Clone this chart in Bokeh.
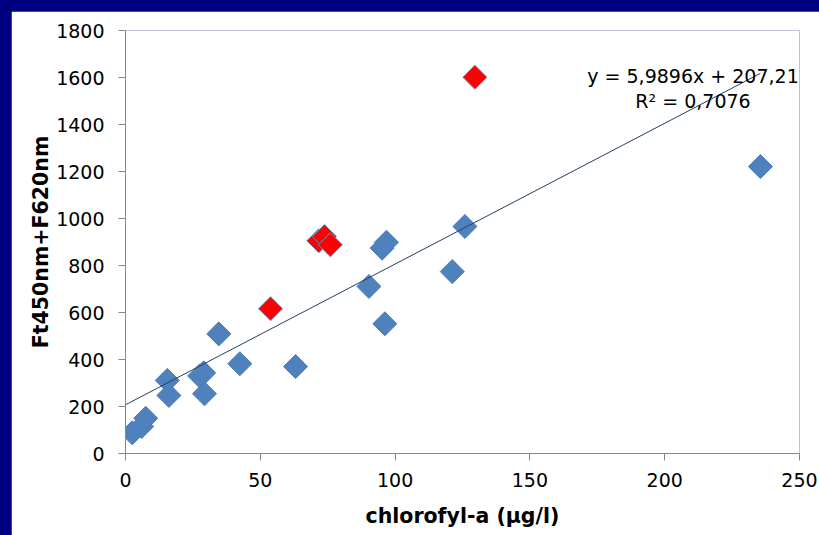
import numpy as np
from bokeh.plotting import figure
from bokeh.models import FixedTicker, Label, Range1d
from bokeh.embed import file_html
from bokeh.resources import INLINE

# ---- data ----
blue_x = [2.5, 6.0, 7.5, 15.5, 16.1, 27.5, 29.0, 29.3, 34.6, 42.4, 63.1, 90.3, 95.2, 96.8, 96.2, 121.2, 125.9, 235.5]
blue_y = [88, 115, 150, 311, 247, 330, 343, 254, 509, 382, 370, 711, 874, 899, 552, 774, 966, 1221]
red_x = [53.8, 71.7, 73.8, 76.0, 129.6]
red_y = [616, 905, 923, 888, 1601]
slope = 5.9896
intercept = 207.21
r2_text = "R² = 0,7076"
eq_text = "y = 5,9896x + 207,21"
x_ticks = [0, 50, 100, 150, 200, 250]
y_ticks = [0, 200, 400, 600, 800, 1000, 1200, 1400, 1600, 1800]
x_title = "chlorofyl-a (µg/l)"
y_title = "Ft450nm+F620nm"

FONT = "DejaVu Sans"

p = figure(width=808, height=524, output_backend="svg", toolbar_location=None,
           x_range=Range1d(0, 250), y_range=Range1d(0, 1800),
           min_border_left=114, min_border_right=20, min_border_top=19, min_border_bottom=82,
           margin=(11, 0, 0, 11))
p.background_fill_color = "white"
p.border_fill_color = "white"
p.outline_line_color = None
p.grid.visible = False

for ax in (p.xaxis[0], p.yaxis[0]):
    ax.axis_line_color = "#868686"
    ax.major_tick_line_color = "#868686"
    ax.minor_tick_line_color = None
    ax.major_tick_in = 0
    ax.major_tick_out = 7
    ax.major_label_text_font = FONT
    ax.major_label_text_font_size = "19px"
    ax.major_label_text_color = "black"
    ax.axis_label_text_font = FONT
    ax.axis_label_text_font_size = "20.5px"
    ax.axis_label_text_font_style = "bold"
    ax.axis_label_text_color = "black"

p.xaxis.ticker = FixedTicker(ticks=x_ticks)
p.yaxis.ticker = FixedTicker(ticks=y_ticks)
p.xaxis.axis_label = x_title
p.yaxis.axis_label = y_title
p.xaxis.major_label_standoff = 12
p.yaxis.major_label_standoff = 14
p.xaxis.axis_label_standoff = 14
p.yaxis.axis_label_standoff = 0

p.scatter(blue_x, blue_y, marker="square", angle=np.pi / 4, size=17,
          fill_color="#4F81BD", line_color="#4A7EBB", line_width=1)
p.scatter(red_x, red_y, marker="square", angle=np.pi / 4, size=17,
          fill_color="#FF0000", line_color="#6C8EBF", line_width=1)

x_end = max(blue_x + red_x)
tx = [0, x_end]
ty = [intercept + slope * v for v in tx]
p.line(tx, ty, line_color="#243F60", line_width=1)

p.add_layout(Label(x=210.5, y=1608, text=eq_text, text_align="center", text_baseline="alphabetic",
                   text_font=FONT, text_font_size="19px", text_color="black"))
p.add_layout(Label(x=210.5, y=1502, text=r2_text, text_align="center", text_baseline="alphabetic",
                   text_font=FONT, text_font_size="19px", text_color="black"))

html = file_html(p, INLINE)
html = html.replace("</head>", "<style>html,body{margin:0;padding:0;background:#000080;overflow:hidden;}</style></head>", 1)
open("out.html", "w").write(html)
